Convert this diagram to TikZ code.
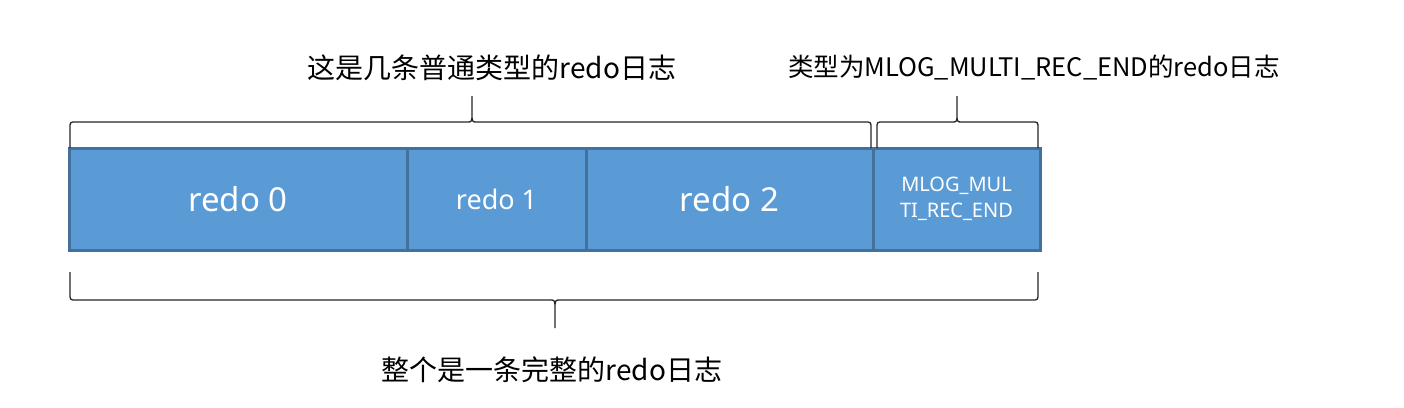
\documentclass[tikz,border=0pt]{standalone}
\usepackage{fontspec}
\setmainfont{Noto Sans}
\newfontfamily\cjk{Noto Sans CJK SC}
\usetikzlibrary{positioning}
\definecolor{cellblue}{HTML}{5B9BD5}
\definecolor{cellline}{HTML}{41719C}
\tikzset{
  cell/.style={draw=cellline, fill=cellblue, line width=3pt, text=white,
               align=center, minimum height=102pt, inner sep=0pt, outer sep=0pt},
  big/.style={font=\fontsize{33}{40}\selectfont},
  mid/.style={font=\fontsize{27}{30}\selectfont},
  small/.style={font=\fontsize{20}{26}\selectfont},
  lbl/.style={font=\cjk\fontsize{28}{32}\selectfont, inner sep=0pt},
  brc/.style={draw=black!85, line width=1.3pt},
}
% curly brace: left x, right x, tip x, end y, depth
\newcommand{\hbrace}[5]{%
  \draw[brc] (#1,#4) -- ({#1},{#4+0.75*(#5)})
    .. controls ({#1},{#4+(#5)}) .. ({#1+6},{#4+(#5)})
    -- ({#3-5},{#4+(#5)})
    .. controls ({#3},{#4+(#5)}) .. ({#3},{#4+1.35*(#5)})
    -- ({#3},{#4+2*(#5)})
    ({#3},{#4+1.35*(#5)})
    .. controls ({#3},{#4+(#5)}) .. ({#3+5},{#4+(#5)})
    -- ({#2-6},{#4+(#5)})
    .. controls ({#2},{#4+(#5)}) .. ({#2},{#4+0.75*(#5)})
    -- (#2,#4);}

\begin{document}
\begin{tikzpicture}[x=1pt, y=-1pt, node distance=0pt]
    \fill[white] (0,0) rectangle (1404,407);
    \useasboundingbox (0,0) rectangle (1404,407);
    % the four redo records
    \node[cell,big,minimum width=338pt,anchor=north west] (r0) at (69,148) {redo 0};
    \node[cell,mid,minimum width=179pt,right=of r0] (r1) {redo 1};
    \node[cell,big,minimum width=287pt,right=of r1] (r2) {redo 2};
    \node[cell,small,minimum width=167pt,right=of r2] (rend) {MLOG\_MUL\\TI\_REC\_END};
    % braces and their labels
    \hbrace{70}{871}{472}{148}{-26}
    \hbrace{877}{1038}{957}{148}{-26}
    \hbrace{70}{1038}{555}{272}{28}
    \node[lbl] (lnorm) at (492,68) {这是几条普通类型的redo日志};
    \node[lbl,font=\cjk\fontsize{25.5}{30}\selectfont] (lend) at (1034,68) {类型为MLOG\_MULTI\_REC\_END的redo日志};
    \node[lbl] (lall) at (552,370) {整个是一条完整的redo日志};
\end{tikzpicture}
\end{document}
